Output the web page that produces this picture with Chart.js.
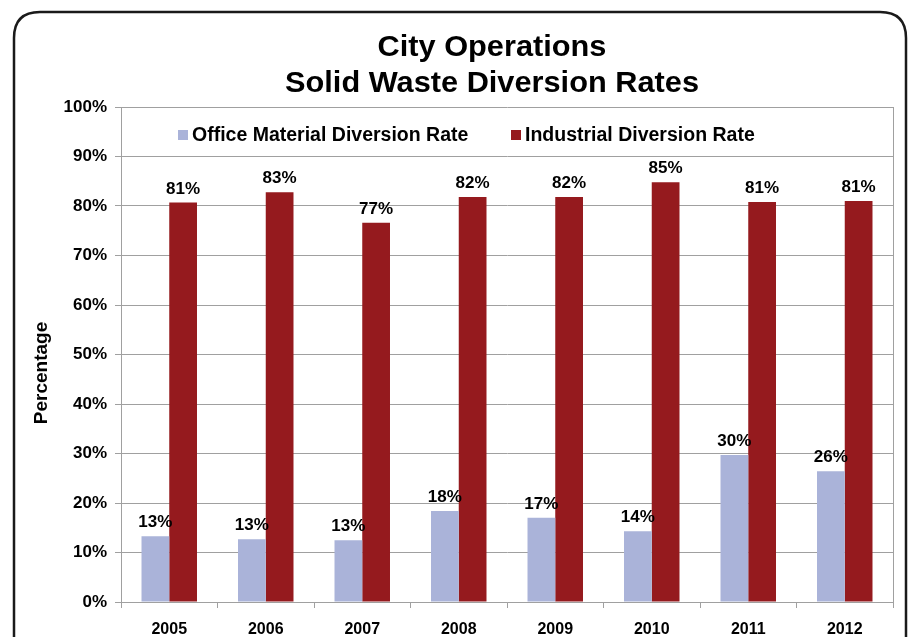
<!DOCTYPE html>
<html>
<head>
<meta charset="utf-8">
<script src="https://cdn.jsdelivr.net/npm/chart.js@4.4.1/dist/chart.umd.min.js"></script>
<style>
html,body{margin:0;padding:0;background:#fff;}
#wrap{width:911px;height:637px;position:relative;}
</style>
</head>
<body>
<div id="wrap"><canvas id="c" width="911" height="637"></canvas></div>
<script>
const years = ['2005','2006','2007','2008','2009','2010','2011','2012'];
const officeRates = [13.3, 12.7, 12.5, 18.4, 17.0, 14.3, 29.7, 26.4];
const industrialRates = [80.7, 82.8, 76.6, 81.8, 81.8, 84.8, 80.8, 81.0];
const seriesNames = ['Office Material Diversion Rate', 'Industrial Diversion Rate'];
const titleLines = ['City Operations', 'Solid Waste Diversion Rates'];
const yAxisTitle = 'Percentage';

const FONT = '"Liberation Sans", Arial, sans-serif';
const officeColor = '#aab3d9';
const industrialColor = '#951a1e';

const framePlugin = {
  id: 'frame',
  beforeDraw(chart) {
    const ctx = chart.ctx;
    ctx.save();
    ctx.fillStyle = '#fff';
    ctx.fillRect(0, 0, chart.width, chart.height);
    ctx.strokeStyle = '#1a1a1a';
    ctx.lineWidth = 2.5;
    const x = 14, y = 12, w = 892, h = 660, r = 26;
    ctx.beginPath();
    ctx.moveTo(x + r, y);
    ctx.lineTo(x + w - r, y);
    ctx.quadraticCurveTo(x + w, y, x + w, y + r);
    ctx.lineTo(x + w, y + h);
    ctx.moveTo(x, y + h);
    ctx.lineTo(x, y + r);
    ctx.quadraticCurveTo(x, y, x + r, y);
    ctx.stroke();
    ctx.restore();
  },
  afterDraw(chart) {
    const ctx = chart.ctx;
    const a = chart.chartArea;
    ctx.save();
    ctx.strokeStyle = '#a0a0a0';
    ctx.lineWidth = 1;
    ctx.beginPath();
    ctx.moveTo(a.right + 0.5, a.top);
    ctx.lineTo(a.right + 0.5, a.bottom);
    ctx.stroke();
    ctx.fillStyle = '#000';
    ctx.textAlign = 'center';
    ctx.textBaseline = 'middle';
    ctx.font = 'bold 29px ' + FONT;
    ctx.save();
    ctx.translate(492, 0);
    ctx.scale(1.06, 1);
    ctx.fillText(titleLines[0], 0, 48);
    ctx.fillText(titleLines[1], 0, 84);
    ctx.restore();
    ctx.save();
    ctx.translate(42, 373);
    ctx.rotate(-Math.PI / 2);
    ctx.font = 'bold 19px ' + FONT;
    ctx.fillText(yAxisTitle, 0, 0);
    ctx.restore();
    ctx.font = 'bold 19.5px ' + FONT;
    ctx.textAlign = 'left';
    const items = [{x: 178, ds: 0}, {x: 511, ds: 1}];
    items.forEach(it => {
      const ds = chart.data.datasets[it.ds];
      ctx.fillStyle = ds.backgroundColor;
      ctx.fillRect(it.x, 130, 10, 10);
      ctx.fillStyle = '#000';
      ctx.fillText(ds.label, it.x + 14, 136);
    });
    ctx.restore();
  },
  afterDatasetsDraw(chart) {
    const ctx = chart.ctx;
    ctx.save();
    ctx.fillStyle = '#000';
    ctx.textAlign = 'center';
    ctx.textBaseline = 'alphabetic';
    ctx.font = 'bold 17px ' + FONT;
    chart.data.datasets.forEach((ds, di) => {
      const meta = chart.getDatasetMeta(di);
      meta.data.forEach((bar, i) => {
        ctx.fillText(Math.round(ds.data[i]) + '%', bar.x, bar.y - 9);
      });
    });
    ctx.restore();
  }
};

new Chart(document.getElementById('c'), {
  type: 'bar',
  data: {
    labels: years,
    datasets: [
      { label: seriesNames[0], data: officeRates, backgroundColor: officeColor,
        categoryPercentage: 0.575, barPercentage: 1.0 },
      { label: seriesNames[1], data: industrialRates, backgroundColor: industrialColor,
        categoryPercentage: 0.575, barPercentage: 1.0 }
    ]
  },
  options: {
    responsive: false,
    animation: false,
    devicePixelRatio: 1,
    layout: { padding: { left: 0, top: 107, right: 18, bottom: 0 } },
    plugins: {
      legend: { display: false },
      title: { display: false },
      tooltip: { enabled: false }
    },
    scales: {
      x: {
        offset: true,
        grid: { display: true, drawOnChartArea: false, drawTicks: true, tickLength: 6, color: '#a0a0a0', offset: true },
        border: { color: '#a0a0a0', width: 1 },
        ticks: { color: '#000', font: { family: FONT, size: 16, weight: 'bold' }, padding: 12, maxRotation: 0 },
        afterFit(scale) { scale.height = 35; }
      },
      y: {
        min: 0, max: 100,
        grid: { color: '#a0a0a0', tickLength: 6, drawTicks: true },
        border: { color: '#a0a0a0', width: 1 },
        ticks: { stepSize: 10, color: '#000', font: { family: FONT, size: 17, weight: 'bold' }, padding: 8,
          callback: v => v + '%' },
        afterFit(scale) { scale.width = 121; }
      }
    }
  },
  plugins: [framePlugin]
});
</script>
</body>
</html>
